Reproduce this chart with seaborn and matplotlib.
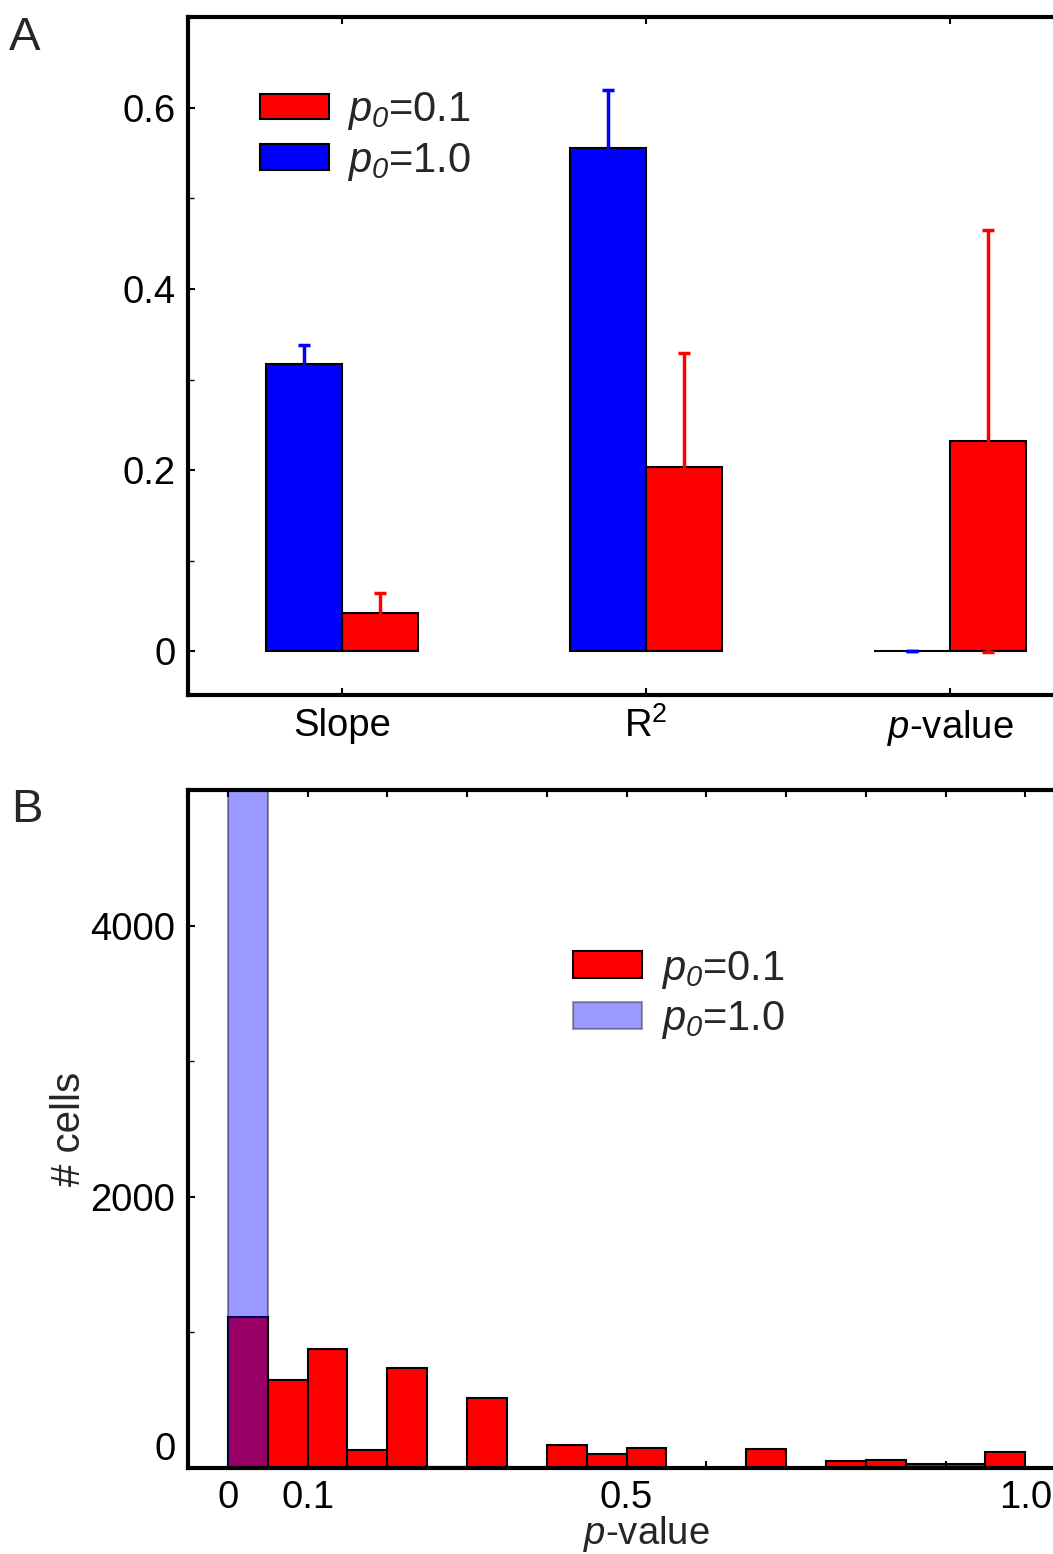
import numpy as np
import pandas as pd
import matplotlib
matplotlib.use('Agg')
import matplotlib.pyplot as plt
from matplotlib.patches import Patch
from matplotlib.ticker import FixedLocator
import seaborn as sns

# panel A: regression statistics (mean, error) for the two p0 values
metrics = ['Slope', 'R$^{2}$', r'$\mathit{p}$-value']
p01_mean = [0.043, 0.203, 0.232]
p01_err = [0.022, 0.126, 0.233]
p10_mean = [0.317, 0.556, 0.0]
p10_err = [0.021, 0.063, 0.0]

# panel B: histogram of p-values, bins of width 0.05
bin_edges = [round(0.05 * i, 2) for i in range(21)]
p01_counts = [1112, 648, 881, 133, 741, 8, 513, 0, 173, 106,
              145, 3, 3, 140, 0, 52, 61, 27, 32, 118]
p10_counts = [5200]

FS = 27.5
LFS = 30
sns.set_style('ticks')
plt.rcParams['font.family'] = ['Liberation Sans', 'DejaVu Sans']
plt.rcParams['mathtext.fontset'] = 'custom'
plt.rcParams['mathtext.rm'] = 'Liberation Sans'
plt.rcParams['mathtext.it'] = 'Liberation Sans:italic'
# italic digits for the subscript (the 'it' slot falls back to upright digits)
plt.rcParams['mathtext.sf'] = 'Liberation Sans:italic'
plt.rcParams['font.size'] = FS
plt.rcParams['axes.linewidth'] = 3
plt.rcParams['axes.edgecolor'] = 'black'
for a in ['xtick', 'ytick']:
    plt.rcParams[a + '.direction'] = 'in'
    plt.rcParams[a + '.major.size'] = 5
    plt.rcParams[a + '.major.width'] = 1.5
    plt.rcParams[a + '.minor.size'] = 4
    plt.rcParams[a + '.minor.width'] = 1
    plt.rcParams[a + '.major.pad'] = 9
    plt.rcParams[a + '.labelsize'] = FS
    plt.rcParams[a + '.color'] = 'black'

lab01 = r'$\mathit{p}_{\mathsf{0}}$=0.1'
lab10 = r'$\mathit{p}_{\mathsf{0}}$=1.0'

W, H = 1053, 1554
fig = plt.figure(figsize=(W / 100, H / 100), dpi=100)
axA = fig.add_axes([188 / W, 1 - 695 / H, 917 / W, 678 / H])
axB = fig.add_axes([188 / W, 1 - 1468 / H, 917 / W, 678 / H])

# ---- panel A
dfA = pd.DataFrame({'metric': metrics * 2,
                    'value': p10_mean + p01_mean,
                    'p0': ['1.0'] * 3 + ['0.1'] * 3})
sns.barplot(data=dfA, x='metric', y='value', hue='p0', hue_order=['1.0', '0.1'],
            palette={'1.0': 'blue', '0.1': 'red'}, width=0.5, gap=0, saturation=1,
            errorbar=None, edgecolor='black', linewidth=1.5, legend=False,
            zorder=2, ax=axA)
for cont, errs, col in zip(axA.containers, [p10_err, p01_err], ['blue', 'red']):
    xs = [b.get_x() + b.get_width() / 2 for b in cont]
    ys = [b.get_height() for b in cont]
    axA.errorbar(xs, ys, yerr=errs, fmt='none', ecolor=col, elinewidth=2.5,
                 capsize=4, capthick=2.5, zorder=3)

axA.set_xlim(-0.507, 2.51)
axA.set_ylim(-0.048, 0.7)
axA.set_yticks([0, 0.2, 0.4, 0.6])
axA.set_yticklabels(['0', '0.2', '0.4', '0.6'])
axA.yaxis.set_minor_locator(FixedLocator([0.1, 0.3, 0.5]))
axA.tick_params(which='both', top=True, right=True)
axA.set_xlabel('')
axA.set_ylabel('')

handlesA = [Patch(facecolor='red', edgecolor='black', linewidth=1.5, label=lab01),
            Patch(facecolor='blue', edgecolor='black', linewidth=1.5, label=lab10)]
axA.legend(handles=handlesA, loc='upper left', bbox_to_anchor=(0.0785, 0.892),
           frameon=False, borderaxespad=0, borderpad=0, handlelength=1.65,
           handleheight=0.56, handletextpad=0.45, labelspacing=0.2, fontsize=LFS)

# ---- panel B
dfB = pd.DataFrame({'pval': [e + 0.025 for e in bin_edges[:-1]], 'n': p01_counts})
dfB1 = pd.DataFrame({'pval': [bin_edges[0] + 0.025], 'n': p10_counts})
sns.histplot(data=dfB, x='pval', weights='n', bins=bin_edges,
             color='red', alpha=1, edgecolor='black', linewidth=1.5, ax=axB)
sns.histplot(data=dfB1, x='pval', weights='n', bins=bin_edges[:2],
             color='blue', alpha=0.4, edgecolor=(0, 0, 0, 0.4), linewidth=1.5, ax=axB)

axB.set_xlim(-0.05, 1.1)
axB.set_ylim(0, 5000)
axB.set_xticks([0, 0.1, 0.5, 1.0])
axB.set_xticklabels(['0', '0.1', '0.5', '1.0'])
axB.xaxis.set_minor_locator(FixedLocator([0.2, 0.3, 0.4, 0.6, 0.7, 0.8, 0.9]))
axB.set_yticks([0, 2000, 4000])
axB.set_yticklabels(['0', '2000', '4000'])
axB.yaxis.set_minor_locator(FixedLocator([1000, 3000]))
axB.get_yticklabels()[0].set_verticalalignment('bottom')
axB.tick_params(which='both', top=True, right=True)
axB.tick_params(axis='x', which='minor', length=5, width=1.5)
axB.set_xlabel(r'$\mathit{p}$-value', fontsize=FS, labelpad=-2)
axB.set_ylabel('# cells', fontsize=29, labelpad=2)

handlesB = [Patch(facecolor='red', edgecolor='black', linewidth=1.5, label=lab01),
            Patch(facecolor=(0, 0, 1, 0.4), edgecolor=(0, 0, 0, 0.35), linewidth=1.5,
                  label=lab10)]
axB.legend(handles=handlesB, loc='upper left', bbox_to_anchor=(0.42, 0.766),
           frameon=False, borderaxespad=0, borderpad=0, handlelength=1.65,
           handleheight=0.62, handletextpad=0.45, labelspacing=0.2, fontsize=LFS)

fig.text(9 / W, 1 - 50 / H, 'A', fontsize=34, ha='left', va='baseline')
fig.text(11 / W, 1 - 822 / H, 'B', fontsize=34, ha='left', va='baseline')

fig.savefig('out.png', dpi=100)
